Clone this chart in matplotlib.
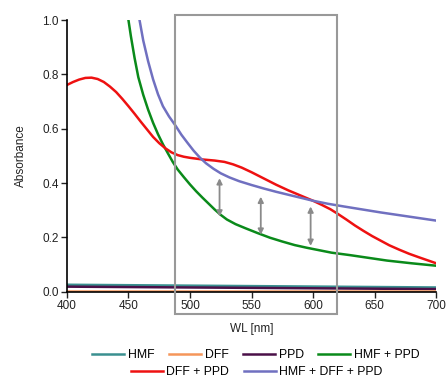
import matplotlib
matplotlib.use("Agg")
import matplotlib.pyplot as plt
from matplotlib.patches import Rectangle
from matplotlib.lines import Line2D

plt.rcParams['font.family'] = ['Liberation Sans', 'DejaVu Sans']

# ---- data ----
wl_flat = [400, 700]
hmf = [0.026, 0.016]
dff = [0.004, 0.004]
ppd = [0.019, 0.010]

wl_red = [400, 405, 410, 415, 420, 425, 430, 435, 440, 445, 450, 455, 460, 465, 470, 475,
          480, 485, 490, 495, 500, 510, 520, 528, 535, 542, 550, 560, 570, 580, 590, 600,
          607, 614, 620, 627, 634, 641, 648, 655, 662, 670, 678, 686, 693, 700]
dff_ppd = [0.761, 0.772, 0.781, 0.787, 0.788, 0.783, 0.772, 0.755, 0.735, 0.710, 0.683,
           0.655, 0.626, 0.598, 0.570, 0.547, 0.528, 0.513, 0.503, 0.497, 0.493, 0.487,
           0.483, 0.478, 0.469, 0.457, 0.440, 0.417, 0.394, 0.373, 0.354, 0.335, 0.320,
           0.304, 0.287, 0.266, 0.244, 0.224, 0.205, 0.188, 0.171, 0.155, 0.140, 0.127,
           0.116, 0.105]

wl_green = [450, 452, 455, 458, 462, 466, 470, 474, 478, 482, 486, 490, 495, 500, 505, 510,
            515, 520, 525, 530, 537, 545, 555, 565, 575, 585, 595, 605, 615, 630, 645, 660,
            680, 700]
hmf_ppd = [1.0, 0.94, 0.86, 0.79, 0.725, 0.67, 0.622, 0.58, 0.543, 0.51, 0.478, 0.45,
           0.422, 0.395, 0.37, 0.347, 0.325, 0.303, 0.283, 0.266, 0.249, 0.234, 0.216,
           0.199, 0.185, 0.172, 0.162, 0.153, 0.144, 0.135, 0.125, 0.115, 0.105, 0.096]

wl_blue = [459, 462, 466, 470, 474, 478, 483, 488, 493, 498, 503, 508, 513, 519, 525, 532,
           540, 550, 560, 570, 580, 590, 600, 612, 625, 640, 655, 670, 685, 700]
hmf_dff_ppd = [1.0, 0.925, 0.848, 0.782, 0.727, 0.683, 0.645, 0.613, 0.578, 0.548, 0.519,
               0.494, 0.473, 0.453, 0.436, 0.421, 0.407, 0.393, 0.38, 0.368, 0.357, 0.346,
               0.335, 0.324, 0.314, 0.303, 0.292, 0.282, 0.272, 0.262]

arrow_x = [524, 557.5, 598]
arrow_top = [0.418, 0.350, 0.314]
arrow_bot = [0.277, 0.210, 0.169]

box_x = [488, 619.5]
box_y = [-0.081, 1.018]

labels = ["HMF", "DFF", "PPD", "HMF + PPD", "DFF + PPD", "HMF + DFF + PPD"]
colors = ["#3a9090", "#f5965a", "#4a1048", "#0a8a1a", "#ee1111", "#7070c0"]

# ---- figure ----
fig = plt.figure(figsize=(4.46, 3.78), dpi=100)
ax = fig.add_axes([0.150, 0.228, 0.828, 0.719])

ax.plot(wl_flat, hmf, color=colors[0], lw=1.8)
ax.plot(wl_flat, ppd, color=colors[2], lw=1.8)
ax.plot(wl_flat, dff, color=colors[1], lw=1.8)
ax.plot(wl_green, hmf_ppd, color=colors[3], lw=1.8)
ax.plot(wl_red, dff_ppd, color=colors[4], lw=1.8)
ax.plot(wl_blue, hmf_dff_ppd, color=colors[5], lw=1.8)

for x, t, b in zip(arrow_x, arrow_top, arrow_bot):
    ax.annotate("", xy=(x, t), xytext=(x, b),
                arrowprops=dict(arrowstyle="<|-|>", color="#8a8a8a", lw=1.3,
                                mutation_scale=8, shrinkA=0, shrinkB=0))

rect = Rectangle((box_x[0], box_y[0]), box_x[1] - box_x[0], box_y[1] - box_y[0],
                 fill=False, edgecolor="#999999", lw=1.5, clip_on=False, zorder=5)
ax.add_patch(rect)

ax.set_xlim(400, 700)
ax.set_ylim(0, 1.0)
ax.set_xticks([400, 450, 500, 550, 600, 650, 700])
ax.set_yticks([0.0, 0.2, 0.4, 0.6, 0.8, 1.0])
ax.set_yticklabels(["0.0", "0.2", "0.4", "0.6", "0.8", "1.0"])
for s in ["top", "right"]:
    ax.spines[s].set_visible(False)
for s in ["left", "bottom"]:
    ax.spines[s].set_linewidth(1.2)
ax.tick_params(direction="out", length=4, width=1.0, labelsize=8.5, pad=2, colors="#222222")
ax.set_xlabel("WL [nm]", fontsize=8.5, labelpad=8, color="#222222")
ax.set_ylabel("Absorbance", fontsize=8.5, labelpad=11, color="#222222")

handles = [Line2D([0], [0], color=c, lw=1.8) for c in colors]
kw = dict(frameon=False, fontsize=8.8, handlelength=2.6, handletextpad=0.3,
          columnspacing=1.2, borderpad=0, borderaxespad=0)
fig.legend(handles[:4], labels[:4], ncol=4, loc="center",
           bbox_to_anchor=(0.574, 0.061), **kw)
fig.legend(handles[4:], labels[4:], ncol=2, loc="center",
           bbox_to_anchor=(0.576, 0.016), **kw)

fig.savefig("out.png", dpi=100)
